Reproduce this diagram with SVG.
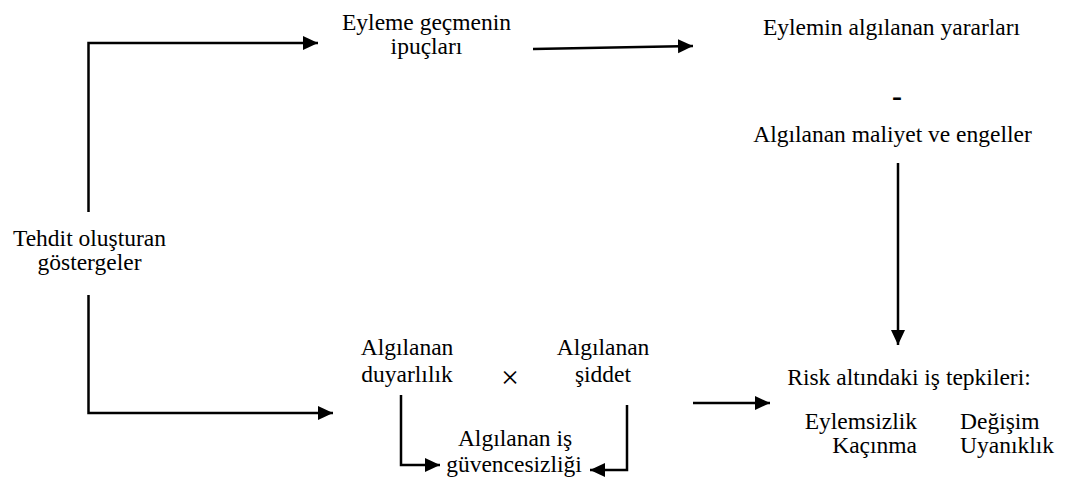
<svg xmlns="http://www.w3.org/2000/svg" width="1065" height="489" viewBox="0 0 1065 489">
  <style>
    text { font-family: "Liberation Serif", "Times New Roman", "DejaVu Serif", serif; font-size: 23.5px; fill: #000; }
    .c { text-anchor: middle; }
    .e { text-anchor: end; }
    .minus { font-size: 30px; font-weight: bold; }
    .op { font-size: 32px; }
    .link { fill: none; stroke: #000; stroke-width: 2.5; }
  </style>
  <defs>
    <marker id="arrow" markerUnits="userSpaceOnUse" markerWidth="16" markerHeight="16" refX="15" refY="7" orient="auto">
      <path d="M0,0 L15,7 L0,14 Z" fill="#000"/>
    </marker>
  </defs>

  <rect width="1065" height="489" fill="#fff"/>

  <!-- connectors -->
  <g id="connectors">
    <polyline class="link" points="88.5,212 88.5,43 318,43" marker-end="url(#arrow)"/>
    <polyline class="link" points="88.5,295 88.5,413 333,413" marker-end="url(#arrow)"/>
    <line class="link" x1="533" y1="49" x2="693" y2="46" marker-end="url(#arrow)"/>
    <line class="link" x1="898" y1="163" x2="898" y2="345" marker-end="url(#arrow)"/>
    <line class="link" x1="693" y1="403" x2="770" y2="403" marker-end="url(#arrow)"/>
    <polyline class="link" points="401,395 401,465 440,465" marker-end="url(#arrow)"/>
    <polyline class="link" points="627,405 627,470 590,470" marker-end="url(#arrow)"/>
  </g>

  <!-- nodes -->
  <g id="cues">
    <text class="c" x="426.5" y="30">Eyleme geçmenin</text>
    <text class="c" x="426.5" y="54">ipuçları</text>
  </g>

  <g id="benefits-costs">
    <text class="c" x="891.5" y="35">Eylemin algılanan yararları</text>
    <text class="c minus" x="897" y="106">-</text>
    <text class="c" x="892.5" y="142">Algılanan maliyet ve engeller</text>
  </g>

  <g id="threat-indicators">
    <text class="c" x="89.5" y="246">Tehdit oluşturan</text>
    <text class="c" x="89.5" y="270">göstergeler</text>
  </g>

  <g id="susceptibility">
    <text class="c" x="407" y="355">Algılanan</text>
    <text class="c" x="407" y="382">duyarlılık</text>
  </g>

  <g id="times">
    <text class="c op" x="510" y="388">×</text>
  </g>

  <g id="severity">
    <text class="c" x="603" y="355">Algılanan</text>
    <text class="c" x="603" y="382">şiddet</text>
  </g>

  <g id="job-insecurity">
    <text class="c" x="515" y="446">Algılanan iş</text>
    <text class="c" x="514" y="472">güvencesizliği</text>
  </g>

  <g id="responses">
    <text class="c" x="909" y="385">Risk altındaki iş tepkileri:</text>
    <text class="e" x="917" y="429">Eylemsizlik</text>
    <text class="e" x="917" y="453">Kaçınma</text>
    <text x="960" y="429">Değişim</text>
    <text x="960" y="453">Uyanıklık</text>
  </g>
</svg>
